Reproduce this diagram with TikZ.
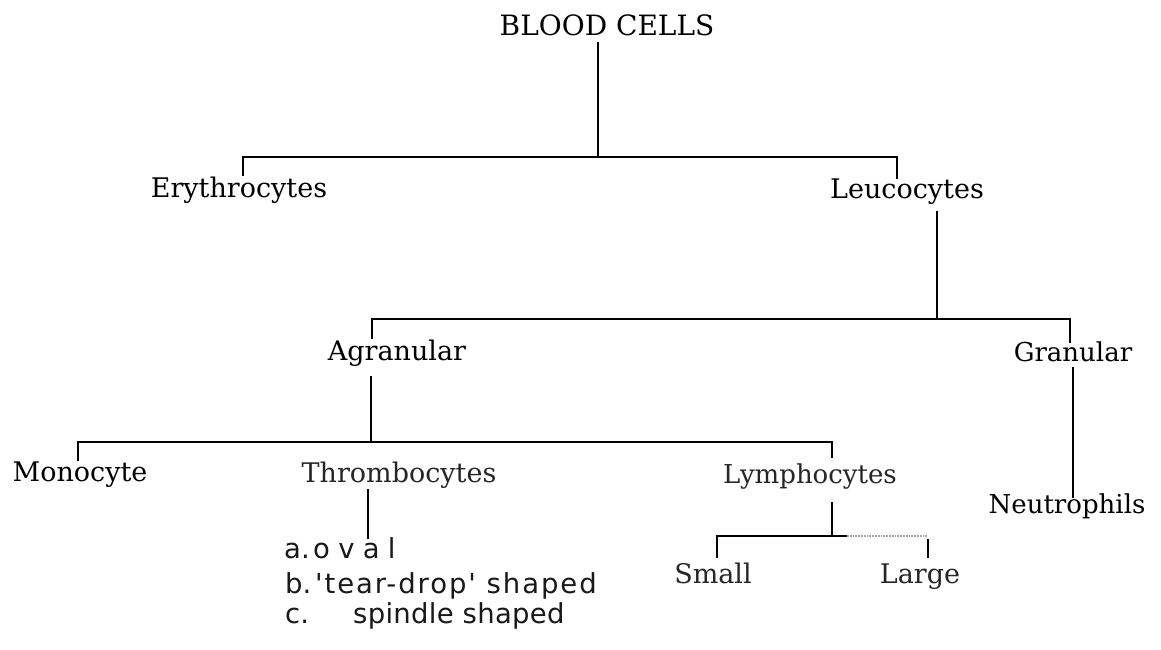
\documentclass[tikz,border=0pt]{standalone}
\usepackage{fontspec}
\setmainfont{DejaVu Serif}
\newfontfamily\listfont{DejaVu Sans}
\newfontfamily\listfontA[LetterSpace=30]{DejaVu Sans}
\newfontfamily\listfontB[LetterSpace=7]{DejaVu Sans}
\newfontfamily\listfontC[LetterSpace=1]{DejaVu Sans}
\newcommand\bigsz{\fontsize{27}{32}\selectfont}
\newcommand\lstsz{\fontsize{27.5}{32}\selectfont}
\begin{document}
\begin{tikzpicture}[x=1pt,y=-1pt,
  lbl/.style={font=\bigsz, anchor=base, inner sep=0pt, text=black},
  itm/.style={anchor=base west, inner sep=0pt, text=black!90},
  ln/.style={line width=2.8pt, black, line cap=rect},
  faint/.style={line width=1.8pt, black!35, densely dotted}]
\useasboundingbox (0,0) rectangle (1161,649);
\fill[white] (0,0) rectangle (1161,649);

% nodes
\node[lbl, font=\fontsize{28}{32}\selectfont] (blood) at (607,35) {BLOOD CELLS};
\node[lbl] (ery) at (239,197) {Erythrocytes};
\node[lbl] (leu) at (907,198) {Leucocytes};
\node[lbl] (agr) at (397,360) {Agranular};
\node[lbl, font=\fontsize{26}{30}\selectfont] (gra) at (1073,361) {Granular};
\node[lbl] (mono) at (80,481) {Monocyte};
\node[lbl, text=black!85] (thr) at (399,482) {Thrombocytes};
\node[lbl, font=\fontsize{26}{30}\selectfont, text=black!85] (lym) at (810,483) {Lymphocytes};
\node[lbl, font=\fontsize{26}{30}\selectfont] (neu) at (1067,513) {Neutrophils};
\node[lbl, text=black!85] (small) at (713,583) {Small};
\node[lbl, text=black!85] (large) at (920,583) {Large};
\node[itm, font=\listfont\lstsz] (la) at (284,558) {a.};
\node[itm, font=\listfontA\lstsz] (oval) at (313,558) {oval};
\node[itm, font=\listfont\lstsz] (lb) at (285,593) {b.};
\node[itm, font=\listfontB\lstsz] (tear) at (315,593) {'tear-drop' shaped};
\node[itm, font=\listfont\lstsz] (lc) at (285,623) {c.};
\node[itm, font=\listfontC\lstsz] (spin) at (353,623) {spindle shaped};

% connector points
\coordinate (b0) at (598,43);
\coordinate (j0) at (598,157);
\coordinate (e0) at (243,175);
\coordinate (l0) at (897,178);
\coordinate (l1) at (937,212);
\coordinate (j1) at (937,319);
\coordinate (a0) at (372,338);
\coordinate (g0) at (1070,342);
\coordinate (a1) at (371,377);
\coordinate (j2) at (371,442);
\coordinate (m0) at (78,460);
\coordinate (y0) at (832,457);
\coordinate (t1) at (368,490);
\coordinate (t2) at (368,538);
\coordinate (y1) at (832,503);
\coordinate (j3) at (832,536);
\coordinate (s0) at (717,557);
\coordinate (f0) at (847,536);
\coordinate (r0) at (928,557);
\coordinate (g1) at (1073,368);
\coordinate (n0) at (1073,497);

% connectors
\draw[ln] (b0) -- (j0);
\draw[ln] (e0) -- (e0 |- j0) -- (l0 |- j0) -- (l0);
\draw[ln] (l1) -- (j1);
\draw[ln] (a0) -- (a0 |- j1) -- (g0 |- j1) -- (g0);
\draw[ln] (a1) -- (j2);
\draw[ln] (m0) -- (m0 |- j2) -- (y0 |- j2) -- (y0);
\draw[ln] (t1) -- (t2);
\draw[ln] (y1) -- (j3);
\draw[ln] (s0) -- (s0 |- j3) -- (f0);
\draw[faint] (f0) -- (r0 |- j3);
\draw[ln] (r0 |- 0,540) -- (r0);
\draw[ln] (g1) -- (n0);
\end{tikzpicture}
\end{document}
